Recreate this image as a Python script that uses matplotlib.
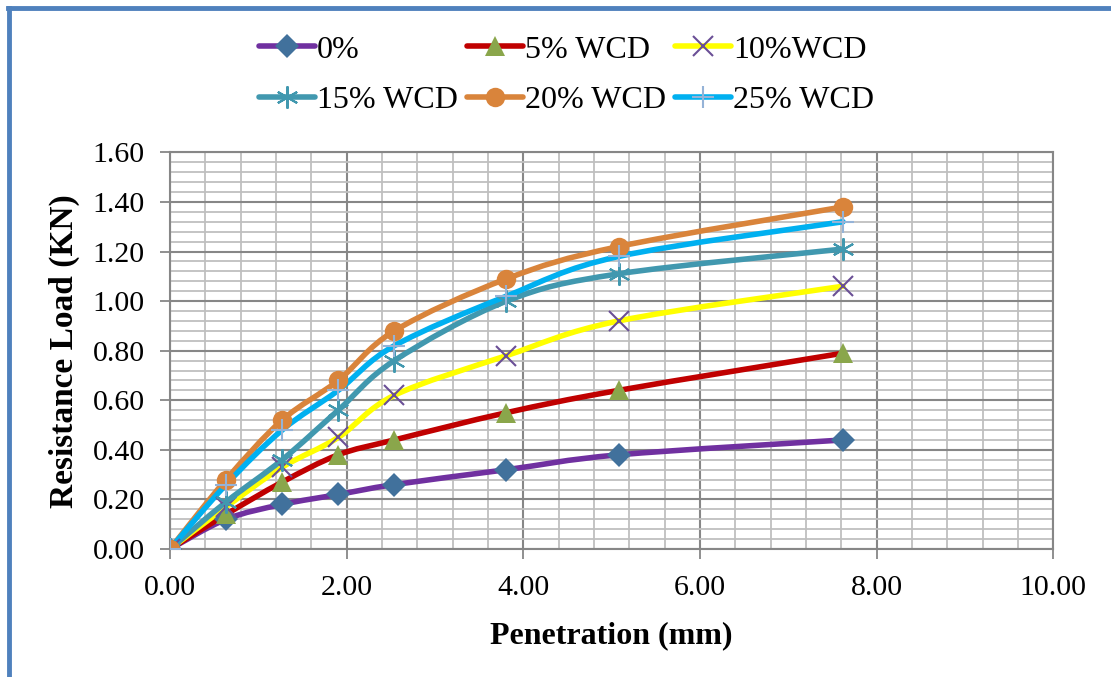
import numpy as np
import matplotlib
matplotlib.use('Agg')
import matplotlib.pyplot as plt
from matplotlib.path import Path
from matplotlib.patches import PathPatch
from matplotlib.lines import Line2D
from matplotlib.ticker import MultipleLocator, FormatStrFormatter

# penetration (mm) and resistance load (KN)
penetration = [0.0, 0.635, 1.27, 1.905, 2.54, 3.81, 5.08, 7.62]
load_0 = [0.0, 0.12, 0.18, 0.22, 0.26, 0.32, 0.38, 0.44]
load_5 = [0.0, 0.14, 0.27, 0.38, 0.44, 0.55, 0.64, 0.79]
load_10 = [0.0, 0.17, 0.33, 0.45, 0.62, 0.78, 0.92, 1.06]
load_15 = [0.0, 0.19, 0.36, 0.56, 0.76, 1.00, 1.11, 1.21]
load_20 = [0.0, 0.28, 0.52, 0.68, 0.88, 1.09, 1.22, 1.38]
load_25 = [0.0, 0.26, 0.48, 0.64, 0.82, 1.02, 1.18, 1.32]
labels = ['0%', '5% WCD', '10%WCD', '15% WCD', '20% WCD', '25% WCD']

plt.rcParams['font.family'] = ['Liberation Serif', 'DejaVu Serif']

# line colour, marker, marker colour, marker size
styles = [
    ('#7030A0', 'D', '#41719C', 12),
    ('#C00000', '^', '#8AA64B', 14),
    ('#FFFF00', 'x', '#6A4F96', 14),
    ('#4198AF', (6, 2, 0), '#4198AF', 16),
    ('#D9843B', 'o', '#D9843B', 14),
    ('#00B0F0', '+', '#95B3D7', 16),
]
series = [load_0, load_5, load_10, load_15, load_20, load_25]


def smooth_path(x, y):
    # excel-like smoothed line: cubic bezier between points
    pts = np.column_stack([x, y])
    n = len(pts)
    verts = [pts[0]]
    codes = [Path.MOVETO]
    for i in range(n - 1):
        p0 = pts[i - 1] if i > 0 else pts[i]
        p1 = pts[i]
        p2 = pts[i + 1]
        p3 = pts[i + 2] if i + 2 < n else pts[i + 1]
        c1 = p1 + (p2 - p0) / 6.0
        c2 = p2 - (p3 - p1) / 6.0
        verts += [c1, c2, p2]
        codes += [Path.CURVE4] * 3
    return Path(verts, codes)


fig = plt.figure(figsize=(11.11, 6.77), dpi=100)
ax = fig.add_axes([0.153, 0.189, 0.795, 0.586])

handles = []
for y, lab, (lc, mk, mc, ms) in zip(series, labels, styles):
    ax.add_patch(PathPatch(smooth_path(penetration, y), facecolor='none',
                           edgecolor=lc, lw=4, zorder=3, capstyle='round'))
    mew = 1.5 if mk in ('x', '+') or isinstance(mk, tuple) else 0
    ax.plot(penetration, y, linestyle='none', marker=mk, ms=ms, color=mc,
            mec=mc, mew=mew, zorder=4)
    handles.append(Line2D([], [], color=lc, lw=4, marker=mk, ms=ms,
                          mfc=mc, mec=mc, mew=mew, solid_capstyle='round'))

ax.set_xlim(0, 10)
ax.set_ylim(0, 1.6)
ax.xaxis.set_major_locator(MultipleLocator(2))
ax.xaxis.set_minor_locator(MultipleLocator(0.4))
ax.yaxis.set_major_locator(MultipleLocator(0.2))
ax.yaxis.set_minor_locator(MultipleLocator(0.04))
ax.xaxis.set_major_formatter(FormatStrFormatter('%.2f'))
ax.yaxis.set_major_formatter(FormatStrFormatter('%.2f'))
ax.grid(which='major', color='#878787', lw=1.5, zorder=1)
ax.grid(which='minor', color='#BFBFBF', lw=1.3, zorder=1)
ax.set_axisbelow(True)
ax.tick_params(which='major', direction='out', length=7, width=1.3,
               color='#878787', labelsize=21.5)
ax.tick_params(axis='x', pad=12)
ax.tick_params(axis='y', pad=11)
ax.tick_params(which='minor', length=0)
for s in ax.spines.values():
    s.set_color('#878787')
    s.set_linewidth(1.5)

ax.set_xlabel('Penetration (mm)', fontsize=23, fontweight='bold', labelpad=14)
ax.set_ylabel('Resistance Load (KN)', fontsize=24, fontweight='bold', labelpad=9)

# excel fills legend row by row; matplotlib column by column
order = [0, 3, 1, 4, 2, 5]
fig.legend([handles[i] for i in order], [labels[i] for i in order],
           ncol=3, loc='center', bbox_to_anchor=(0.51, 0.889), frameon=False,
           fontsize=23, handlelength=1.75, handletextpad=0.05,
           columnspacing=0.3, labelspacing=0.66, numpoints=1)

# blue frame (top and left edges visible)
fig.add_artist(Line2D([0.0075, 1.0], [0.9885, 0.9885], color='#4F81BD', lw=3.5,
                      transform=fig.transFigure))
fig.add_artist(Line2D([0.0081, 0.0081], [0.0, 0.9885], color='#4F81BD', lw=3.5,
                      transform=fig.transFigure))

fig.savefig('out.png', dpi=100)
